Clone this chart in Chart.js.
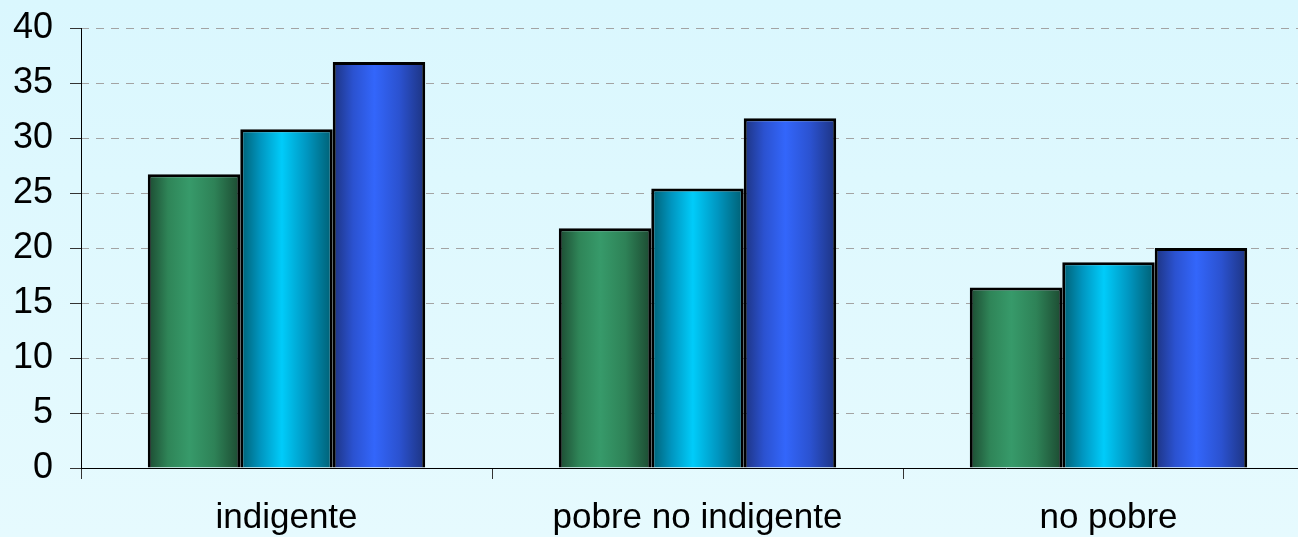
<!DOCTYPE html>
<html>
<head>
<meta charset="utf-8">
<script src="https://cdn.jsdelivr.net/npm/chart.js@4/dist/chart.umd.min.js"></script>
<style>
  html, body { margin: 0; padding: 0; overflow: hidden; width: 1298px; height: 537px; }
  body { background: linear-gradient(to bottom, #daf7fe 0%, #e6fafe 100%); }
  #wrap { position: absolute; left: 0; top: 0; width: 1314px; height: 537px; }
</style>
</head>
<body>
<div id="wrap"><canvas id="c"></canvas></div>
<script>
const categories = ["indigente", "pobre no indigente", "no pobre"];
const series1 = [26.7, 21.8, 16.4];
const series2 = [30.8, 25.4, 18.7];
const series3 = [36.9, 31.8, 20.0];
const yTicks = [0, 5, 10, 15, 20, 25, 30, 35, 40];

const palettes = [
  ["#1c4a31", "#2f8558", "#379a6a", "#2e8257", "#1c4a31"],
  ["#005e72", "#0096c0", "#00ccfa", "#0096c0", "#005e72"],
  ["#1d3380", "#2b52d0", "#3366fb", "#2b52d0", "#1d3380"]
];
const CAT_PCT = 0.675;

function gradFor(ctx) {
  const chart = ctx.chart;
  const pal = palettes[ctx.datasetIndex];
  if (!chart.chartArea || ctx.dataIndex === undefined) return pal[2];
  const xs = chart.scales.x;
  const catW = xs.width / categories.length;
  const barW = catW * CAT_PCT / 3;
  const center = xs.getPixelForValue(ctx.dataIndex) + (ctx.datasetIndex - 1) * barW;
  const left = center - barW / 2;
  const g = chart.ctx.createLinearGradient(left, 0, left + barW, 0);
  g.addColorStop(0, pal[0]);
  g.addColorStop(0.22, pal[1]);
  g.addColorStop(0.45, pal[2]);
  g.addColorStop(0.72, pal[3]);
  g.addColorStop(1, pal[4]);
  return g;
}

const mk = (data) => ({
  data,
  backgroundColor: gradFor,
  borderColor: "#000000",
  borderWidth: 3,
  borderSkipped: "bottom",
  categoryPercentage: CAT_PCT,
  barPercentage: 1.0
});

// solid y axis line drawn on top (gridlines are dashed)
const axisLine = {
  id: "axisLine",
  afterDatasetsDraw(chart) {
    const { ctx, chartArea } = chart;
    ctx.save();
    ctx.strokeStyle = "#000000";
    ctx.lineWidth = 1;
    ctx.setLineDash([]);
    ctx.beginPath();
    ctx.moveTo(chartArea.left + 0.5, chartArea.top);
    ctx.lineTo(chartArea.left + 0.5, chartArea.bottom);
    ctx.stroke();
    ctx.restore();
  }
};

new Chart(document.getElementById("c"), {
  type: "bar",
  data: {
    labels: categories,
    datasets: [mk(series1), mk(series2), mk(series3)]
  },
  plugins: [axisLine],
  options: {
    responsive: true,
    maintainAspectRatio: false,
    animation: false,
    layout: { padding: { top: 28, right: 0, left: 0, bottom: 0 } },
    plugins: { legend: { display: false }, tooltip: { enabled: false } },
    scales: {
      x: {
        offset: true,
        grid: {
          display: true,
          offset: true,
          drawOnChartArea: false,
          drawTicks: true,
          tickLength: 11,
          tickColor: "#333333",
          color: "#333333"
        },
        border: { display: true, color: "#000000", width: 1 },
        ticks: {
          color: "#000000",
          font: { family: "'Liberation Sans', Arial, sans-serif", size: 35 },
          padding: 18
        },
        afterFit: (s) => { s.height = 69; s.paddingLeft = 0; s.paddingRight = 0; }
      },
      y: {
        min: 0,
        max: 40,
        afterBuildTicks: (s) => { s.ticks = yTicks.map(v => ({ value: v })); },
        grid: {
          color: "#a3a3a3",
          lineWidth: 1,
          tickBorderDash: [],
          tickColor: "#333333",
          tickLength: 11,
          drawTicks: true
        },
        border: { display: false, color: "#000000", width: 1, dash: [8, 7] },
        ticks: {
          color: "#000000",
          font: { family: "'Liberation Sans', Arial, sans-serif", size: 36 },
          padding: 17
        },
        afterFit: (s) => { s.width = 81; s.paddingTop = 0; s.paddingBottom = 0; }
      }
    }
  }
});
</script>
</body>
</html>
